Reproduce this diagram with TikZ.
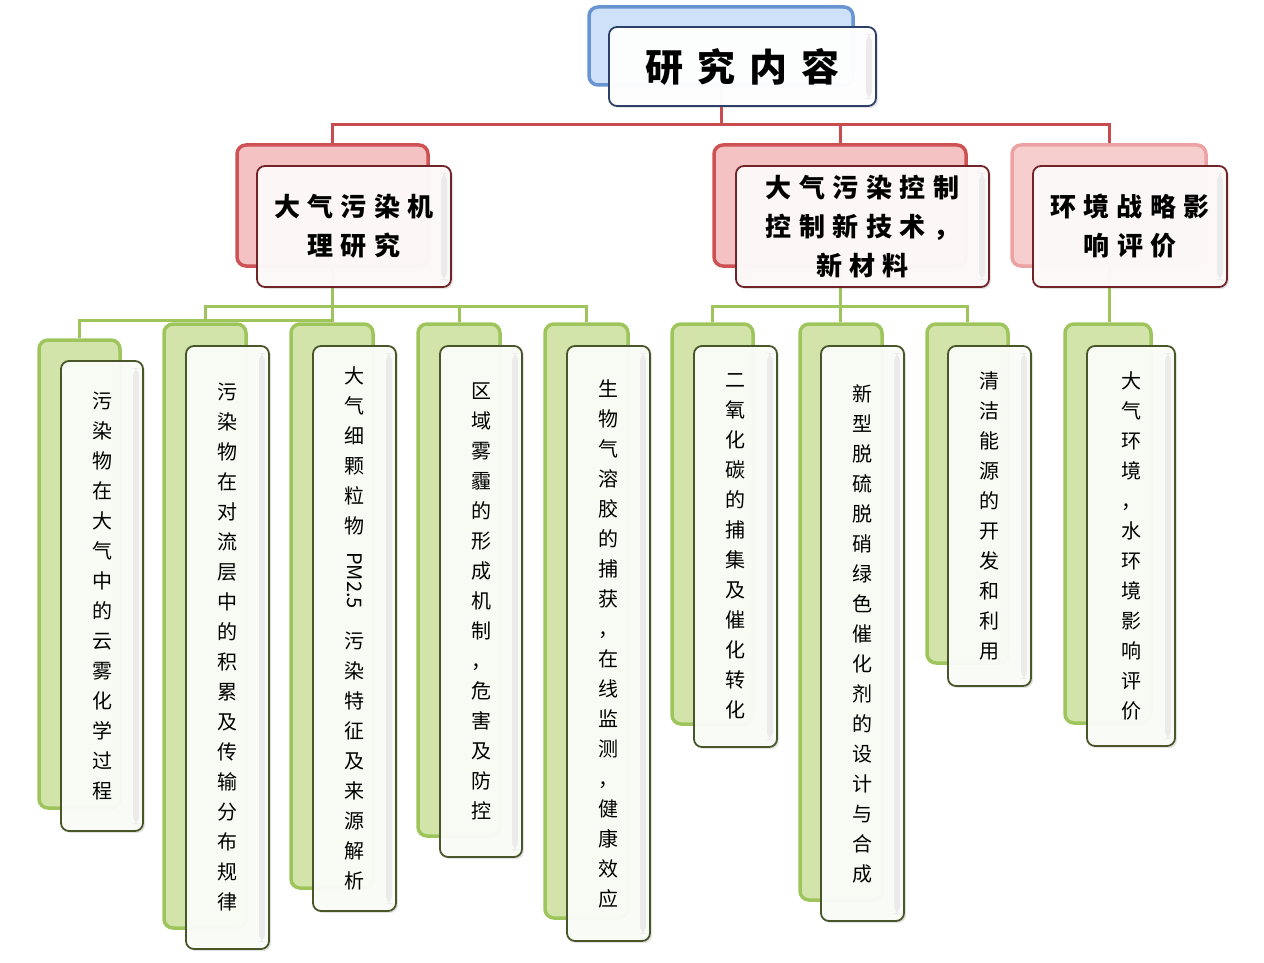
\documentclass[tikz,border=0pt]{standalone}
\usepackage{fontspec}
\setmainfont{Noto Sans CJK SC}
\usetikzlibrary{shadows,backgrounds}
\definecolor{topbf}{RGB}{206,225,249}
\definecolor{topbd}{RGB}{104,148,210}
\definecolor{topfd}{RGB}{44,64,104}
\definecolor{redbf}{RGB}{244,194,195}
\definecolor{redbd}{RGB}{206,82,84}
\definecolor{red3bf}{RGB}{246,206,206}
\definecolor{red3bd}{RGB}{236,162,163}
\definecolor{redfd}{RGB}{112,36,40}
\definecolor{redff}{RGB}{254,249,249}
\definecolor{grnbf}{RGB}{210,228,170}
\definecolor{grnbd}{RGB}{158,196,92}
\definecolor{grnfd}{RGB}{72,86,42}
\definecolor{grnff}{RGB}{250,252,247}
\definecolor{redln}{RGB}{200,76,79}
\definecolor{grnln}{RGB}{158,196,92}
\newcommand\kc{\kern7.5pt}
\newcommand\kt{\kern14pt}
\tikzset{
  backbox/.style={rounded corners=9pt, line width=3.5pt, inner sep=0pt},
  frontbox/.style={rounded corners=8pt, line width=1.8pt, inner sep=0pt, align=center,
    fill opacity=0.97, text opacity=1,
    drop shadow={opacity=0.22, shadow xshift=2pt, shadow yshift=-2pt},
    path picture={\fill[black!8] ([xshift=-10pt,yshift=-7pt]path picture bounding box.north east) rectangle ([xshift=-4pt,yshift=7pt]path picture bounding box.south east);}},
  topback/.style={backbox, draw=topbd, fill=topbf},
  topfront/.style={frontbox, draw=topfd, fill=white, font=\fontsize{38pt}{40pt}\selectfont\bfseries},
  catback/.style={backbox, draw=redbd, fill=redbf},
  catbackl/.style={backbox, draw=red3bd, fill=red3bf},
  catfront/.style={frontbox, draw=redfd, fill=redff, font=\fontsize{26pt}{39pt}\selectfont\bfseries},
  leafback/.style={backbox, draw=grnbd, fill=grnbf},
  leaffront/.style={frontbox, draw=grnfd, fill=grnff, font=\fontsize{20pt}{30pt}\selectfont},
  redlink/.style={draw=redln, line width=3pt},
  grnlink/.style={draw=grnln, line width=3pt}
}
\begin{document}
\begin{tikzpicture}[x=1pt,y=-1pt]
\useasboundingbox (0,0) rectangle (1264,963);
% top
\node[topback, minimum width=264pt, minimum height=78pt] (topb) at (721,46) {};
\node[topfront, minimum width=267pt, minimum height=79pt] (top) at (742.5,66.5) {研\kt 究\kt 内\kt 容};
% categories
\node[catback, minimum width=191pt, minimum height=121pt] (c1b) at (332.5,205.5) {};
\node[catfront, minimum width=194pt, minimum height=121pt] (c1) at (354,226.5) {大\kc 气\kc 污\kc 染\kc 机\\理\kc 研\kc 究};
\node[catback, minimum width=252pt, minimum height=121pt] (c2b) at (840,205.5) {};
\node[catfront, minimum width=253pt, minimum height=121pt] (c2) at (862.5,226.5) {大\kc 气\kc 污\kc 染\kc 控\kc 制\\控\kc 制\kc 新\kc 技\kc 术\kc ，\\新\kc 材\kc 料};
\node[catbackl, minimum width=194pt, minimum height=121pt] (c3b) at (1109,205.5) {};
\node[catfront, minimum width=194pt, minimum height=121pt] (c3) at (1130,226.5) {环\kc 境\kc 战\kc 略\kc 影\\响\kc 评\kc 价};
% leaves
\node[leafback, minimum width=81pt, minimum height=468pt] (l1b) at (79.5,574) {};
\node[leaffront, minimum width=82pt, minimum height=470pt] (l1) at (102,596) {污\\染\\物\\在\\大\\气\\中\\的\\云\\雾\\化\\学\\过\\程};
\node[leafback, minimum width=82pt, minimum height=604pt] (l2b) at (205,626) {};
\node[leaffront, minimum width=83pt, minimum height=603pt] (l2) at (227.5,647.5) {污\\染\\物\\在\\对\\流\\层\\中\\的\\积\\累\\及\\传\\输\\分\\布\\规\\律};
\node[leafback, minimum width=82pt, minimum height=564pt] (l3b) at (332,606) {};
\node[leaffront, minimum width=83pt, minimum height=565pt] (l3) at (354.5,628.5) {大\\气\\细\\颗\\粒\\物\\[16pt]\rotatebox[origin=c]{-90}{PM2.5}\\[22pt]污\\染\\特\\征\\及\\来\\源\\解\\析};
\node[leafback, minimum width=82pt, minimum height=512pt] (l4b) at (459,580) {};
\node[leaffront, minimum width=82pt, minimum height=511pt] (l4) at (481,601.5) {区\\域\\雾\\霾\\的\\形\\成\\机\\制\\，\\危\\害\\及\\防\\控};
\node[leafback, minimum width=83pt, minimum height=594pt] (l5b) at (586.5,621) {};
\node[leaffront, minimum width=83pt, minimum height=595pt] (l5) at (608.5,643.5) {生\\物\\气\\溶\\胶\\的\\捕\\获\\，\\在\\线\\监\\测\\，\\健\\康\\效\\应};
\node[leafback, minimum width=81pt, minimum height=400pt] (l6b) at (712.5,524) {};
\node[leaffront, minimum width=83pt, minimum height=401pt] (l6) at (735.5,546.5) {二\\氧\\化\\碳\\的\\捕\\集\\及\\催\\化\\转\\化};
\node[leafback, minimum width=82pt, minimum height=576pt] (l7b) at (841,612) {};
\node[leaffront, minimum width=83pt, minimum height=575pt] (l7) at (862.5,633.5) {新\\型\\脱\\硫\\脱\\硝\\绿\\色\\催\\化\\剂\\的\\设\\计\\与\\合\\成};
\node[leafback, minimum width=81pt, minimum height=339pt] (l8b) at (967.5,493.5) {};
\node[leaffront, minimum width=83pt, minimum height=340pt] (l8) at (989.5,516) {清\\洁\\能\\源\\的\\开\\发\\和\\利\\用};
\node[leafback, minimum width=86pt, minimum height=399pt] (l9b) at (1108,523.5) {};
\node[leaffront, minimum width=88pt, minimum height=400pt] (l9) at (1131,546) {大\\气\\环\\境\\，\\水\\环\\境\\影\\响\\评\\价};
% connectors
\begin{pgfonlayer}{background}
\coordinate (rbus) at (0,125);
\coordinate (gbusA) at (0,306);
\coordinate (gbusB) at (0,320);
\draw[redlink] (topb.south) -- (topb.south |- rbus);
\draw[redlink] (c1b.north) -- (c1b.north |- rbus) -- (c3b.north |- rbus) -- (c3b.north);
\draw[redlink] (c2b.north) -- (c2b.north |- rbus);
\draw[grnlink] (c1b.south) -- (c1b.south |- l3b.north);
\draw[grnlink] (l2b.north) -- (l2b.north |- gbusA) -- (l5b.north |- gbusA) -- (l5b.north);
\draw[grnlink] (l4b.north) -- (l4b.north |- gbusA);
\draw[grnlink] (l1b.north) -- (l1b.north |- gbusB) -- (c1b.south |- gbusB);
\draw[grnlink] (c2b.south) -- (c2b.south |- l7b.north);
\draw[grnlink] (l6b.north) -- (l6b.north |- gbusA) -- (l8b.north |- gbusA) -- (l8b.north);
\draw[grnlink] (c3b.south) -- (c3b.south |- l9b.north);
\end{pgfonlayer}
\end{tikzpicture}
\end{document}
